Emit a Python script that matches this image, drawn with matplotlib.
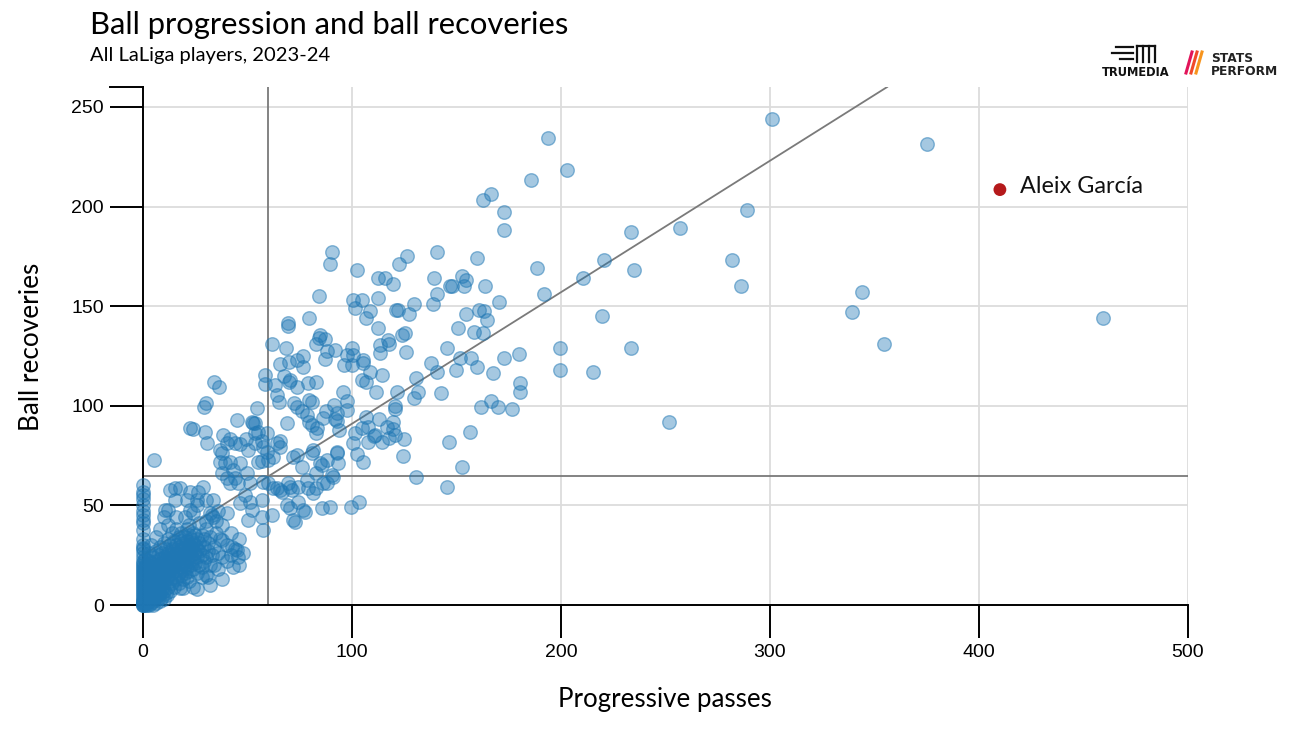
import matplotlib
matplotlib.use("Agg")
import matplotlib.pyplot as plt
from matplotlib.lines import Line2D
import numpy as np

# ---------------- data ----------------
title = "Ball progression and ball recoveries"
subtitle = "All LaLiga players, 2023-24"
x_label = "Progressive passes"
y_label = "Ball recoveries"
x_ticks = [0, 100, 200, 300, 400, 500]
y_ticks = [0, 50, 100, 150, 200, 250]
x_max = 500
y_max = 260
ref_x = 60           # vertical reference line
ref_y = 65           # horizontal reference line
trend_intercept = 25
trend_slope = 0.66

highlight_name = "Aleix García"
highlight_x = 410
highlight_y = 208.5

pts_sparse = [(300.8, 244.1), (375, 231.3), (193.8, 234.3), (202.7, 218.2), (185.5, 213.2),
              (166.5, 206.2), (162.5, 203.3), (172.6, 197.1), (172.6, 188.2), (288.9, 198.3),
              (233.7, 187.2), (256.7, 189.3), (220.8, 173.2), (234.7, 168.2), (281.8, 173.2),
              (285.9, 160.1), (188.7, 169.2), (210.7, 164.2), (191.9, 156.3), (344, 157.1),
              (339, 147.1), (219.7, 145.1), (459.2, 144.1), (354.6, 131), (199.4, 129),
              (233.7, 129), (199.4, 118), (215.5, 117), (251.6, 92)]

pts_upper_mid = [(90.4, 177.2), (89.5, 171.2), (126.5, 175.2), (122.7, 171.2), (140.5, 177.2),
                 (159.6, 174.2), (102.5, 168.2), (112.4, 164.2), (115.8, 164.2), (119.6, 161.1),
                 (139.4, 164.2), (152.6, 165.2), (154.5, 163.2), (146.9, 160.1), (147.8, 160.1),
                 (153.6, 160.1), (163.5, 160.1), (84.0, 155.1), (100.3, 153.1), (104.6, 153.1),
                 (101.6, 149.1), (112.6, 154.1), (108.5, 147.4), (106.6, 143.9), (112.6, 139.1),
                 (120.9, 148.1), (122.2, 148.1), (127.4, 146.1), (129.8, 151.1), (138.6, 151.1),
                 (140.5, 156.1), (160.6, 148.1), (163.3, 147.4), (164.6, 143.1), (154.5, 146.1),
                 (170.5, 152.1), (150.6, 139.1), (158.4, 137.1), (162.8, 136.4), (123.8, 135.7),
                 (125.5, 136.4), (117.4, 133), (84.7, 135.5), (87.1, 133.4)]

pts_mid = [(91.9, 128), (88.2, 127.6), (87.1, 123.3), (99.9, 128.9), (97.5, 125.5),
           (100.6, 125.5), (100.1, 120.5), (96.2, 120.5), (105.1, 123), (105.4, 121.3),
           (108.6, 117.1), (104.6, 113), (106.7, 112.1), (113.4, 130.5), (117.7, 131),
           (113.4, 126.7), (125.7, 127), (114.5, 115.3), (111.5, 107.1), (121.5, 107.1),
           (130.5, 114.1), (131.4, 107.1), (129.7, 104.1), (137.7, 121.3), (140.5, 117),
           (145.6, 129), (151.7, 124), (156.8, 124), (149.6, 118.1), (159.7, 119.3),
           (142.6, 106.3), (167.6, 116.3), (172.6, 124), (179.7, 126), (180.5, 111.3),
           (180.5, 107.1), (161.7, 99.2), (166.5, 102.3), (169.7, 99.2), (176.7, 98.2),
           (156.6, 87), (146.6, 82), (152.5, 69.1), (130.5, 64.1), (145.5, 59.1),
           (95.5, 107.1), (97.5, 102.6), (97.5, 97.9), (91.4, 100.4), (87.4, 97.2),
           (91.9, 93.2), (92.7, 92.5), (93.8, 87.9), (106.7, 94.2), (107.5, 89.2),
           (110.5, 84.8), (107.5, 82), (114.4, 82), (113.1, 93.2), (119.5, 92),
           (119.5, 88.4), (117.7, 83.7), (120.6, 85.3), (124.7, 83.2), (120.7, 99.9),
           (120.6, 98.2), (100.3, 81.2), (102.5, 75.8), (105.4, 71.9), (92.7, 77),
           (93.4, 71.1), (90.3, 65.3), (86, 61.4), (85.5, 70.3), (103.5, 51.9),
           (99.4, 49.3), (89.5, 49.3), (124.5, 74.8), (84.4, 133.9), (82.6, 131),
           (79.6, 144.1), (69.5, 141.4), (69.5, 140.1), (61.6, 131), (68.6, 129),
           (76.7, 125), (73.5, 123), (69.7, 122), (65.4, 121), (76.7, 119.3),
           (70.3, 113), (67.6, 115), (73.7, 109.6), (79.1, 111.3), (82.6, 112.1),
           (79.6, 102.9), (80.7, 101.9), (58.4, 115.5), (58.4, 110.9), (63.3, 110.4),
           (64.3, 105.4), (65.2, 102.1), (69.7, 112.1), (72.4, 101.3), (73.5, 99.6),
           (75.9, 97.6), (78.3, 95.4), (79.4, 91.7), (80.7, 90.4), (83.4, 88.7),
           (82.8, 86.2), (86.3, 93.7), (101.4, 86.2), (104.6, 88.7), (111, 85.3),
           (116.6, 89.5), (92.7, 96.2)]

pts_low_mid = [(34.1, 112.1), (36.5, 109.3), (30.1, 101.2), (29.3, 99.5), (22.5, 88.7),
               (29.7, 87), (38.4, 85.3), (44.8, 92.9), (52, 92), (53.6, 91.5),
               (53.6, 86.2), (54.4, 98.7), (59.2, 86.2), (68.8, 91.5), (24.1, 88.2),
               (30.5, 81.2), (41.6, 83.2), (36.8, 77.8), (40, 81.2), (44, 81.2),
               (46.4, 80.8), (50.4, 77.8), (49.3, 83.2), (55.2, 87), (53.6, 81.2),
               (56.8, 82.5), (65.6, 82.5), (52.8, 91.2), (59.2, 77), (56.8, 72.4),
               (55.2, 71.9), (62.4, 74.5), (37.7, 76.1), (39.2, 71.1), (41.6, 71.9),
               (36.8, 71.9), (46.4, 71.1), (43.2, 67.8), (49.6, 66.1), (44, 63.6),
               (41.6, 61.1), (45.6, 61.1), (51.2, 61.1), (37.7, 66.1), (40, 63.6),
               (57.6, 61.9), (60, 61.1), (62.4, 58.6), (64, 58.6), (66.4, 56.9),
               (71.2, 57.7), (68.8, 50.2), (74.4, 51.9), (76.7, 47.7), (70.3, 48.5),
               (72.7, 41.8), (71.9, 42.7), (85.5, 48.5), (57.2, 37.7), (61.6, 45.2),
               (56.8, 44.3), (56.8, 52.7), (52, 47.7), (50.4, 42.7), (51.2, 51.9),
               (46.4, 51.1), (48.8, 55.2), (65.6, 57.7), (70.3, 59.4), (74.4, 59.4),
               (79.1, 58.6), (81.5, 56.1), (84.7, 71.1), (87.9, 72.8), (92.7, 76.1),
               (91, 64.4), (81.5, 77.8), (83, 66.1), (87.9, 61.1), (65.6, 79.5),
               (71.9, 74.5), (64, 81.2), (57.6, 79.5), (60, 72.8), (73.5, 75.3),
               (80.7, 76.1), (75.9, 69.4), (69.5, 61.1), (78.3, 62.7), (83, 58.6),
               (77.5, 46.8), (5.4, 72.8)]

pts_low = [(0, 60.2), (0, 56.9), (0, 50.2), (0, 42.7), (0, 41), (0, 37.7), (0, 28.5), (0, 26),
           (12.9, 57.7), (15.3, 58.6), (17.7, 58.6), (22.5, 56.9), (26.5, 56.9), (28.9, 59.4),
           (30.1, 52.7), (33.6, 52.7), (25.7, 52.7), (20.9, 52.7), (15.3, 52.7), (10.5, 47.7),
           (12.1, 47.7), (22.5, 47.7), (32.1, 46.1), (33.6, 44.3), (37.7, 32.6), (40, 30.1),
           (42.4, 29.3), (44.8, 27.6), (45.6, 24.3), (43.2, 19.2), (31.1, 14.2), (19.3, 8.4),
           (17.7, 8.4), (11.3, 5)]

pts_dense = [(0, 0), (0, 0), (0, 0), (0, 1), (0, 1), (0, 2), (0, 2), (0, 3), (0, 4), (0, 5),
             (0, 6), (0, 7), (0, 8), (0, 9), (0, 10), (0, 11), (0, 12), (0, 13), (0, 14), (0, 15),
             (0, 16), (0, 17), (0, 18), (0, 19), (0, 20), (0, 21), (0, 22), (0, 24), (0, 28), (0, 30),
             (0, 33), (0, 45), (0, 47), (0, 53), (0, 55),
             (1, 0), (1, 1), (1, 2), (1, 3), (1, 5), (1, 6), (1, 8), (1, 10), (1, 12), (1, 14),
             (1, 17), (1, 19), (1, 23),
             (2, 0), (2, 1), (2, 3), (2, 4), (2, 7), (2, 9), (2, 11), (2, 13), (2, 16), (2, 20),
             (3, 0), (3, 2), (3, 5), (3, 6), (3, 8), (3, 10), (3, 12), (3, 15), (3, 18), (3, 22), (3, 26),
             (4, 1), (4, 3), (4, 4), (4, 7), (4, 9), (4, 11), (4, 14), (4, 17), (4, 21), (4, 30),
             (5, 0), (5, 2), (5, 5), (5, 8), (5, 10), (5, 13), (5, 16), (5, 19), (5, 24),
             (6, 1), (6, 4), (6, 6), (6, 9), (6, 12), (6, 15), (6, 18), (6, 22), (6, 27), (6, 34),
             (7, 3), (7, 5), (7, 8), (7, 11), (7, 14), (7, 17), (7, 20), (7, 25),
             (8, 2), (8, 6), (8, 10), (8, 13), (8, 16), (8, 19), (8, 23), (8, 29), (8, 38),
             (9, 4), (9, 8), (9, 12), (9, 15), (9, 18), (9, 21), (9, 26),
             (10, 3), (10, 7), (10, 11), (10, 14), (10, 17), (10, 20), (10, 24), (10, 31), (10, 44),
             (11, 6), (11, 13), (11, 19), (11, 23), (11, 28),
             (12, 9), (12, 15), (12, 18), (12, 22), (12, 26), (12, 33), (12, 40),
             (13, 7), (13, 12), (13, 17), (13, 21), (13, 25), (13, 30),
             (14, 11), (14, 16), (14, 20), (14, 24), (14, 28), (14, 36),
             (15, 9), (15, 14), (15, 19), (15, 23), (15, 27), (15, 32),
             (16, 13), (16, 18), (16, 22), (16, 26), (16, 30), (16, 38), (16, 44),
             (17, 11), (17, 16), (17, 21), (17, 25), (17, 29), (17, 34),
             (18, 15), (18, 19), (18, 24), (18, 28), (18, 32), (18, 36),
             (19, 13), (19, 18), (19, 22), (19, 27), (19, 31),
             (20, 16), (20, 20), (20, 25), (20, 29), (20, 34), (20, 44),
             (21, 14), (21, 19), (21, 23), (21, 27), (21, 32), (21, 38),
             (22, 12), (22, 17), (22, 22), (22, 26), (22, 30), (22, 35), (22, 40),
             (23, 20), (23, 25), (23, 29), (23, 33),
             (24, 9), (24, 18), (24, 23), (24, 28), (24, 31), (24, 36), (24, 46),
             (25, 21), (25, 26), (25, 30), (25, 35),
             (26, 8), (26, 16), (26, 24), (26, 28), (26, 33), (26, 50),
             (27, 20), (27, 27), (27, 31), (27, 41),
             (28, 14), (28, 19), (28, 25), (28, 35),
             (29, 22), (29, 29), (29, 33),
             (30, 15), (30, 24), (30, 38), (30, 42),
             (31, 27), (31, 31), (32, 10), (32, 20), (32, 34), (33, 25), (33, 45),
             (34, 20), (34, 29), (35, 36), (35, 42), (36, 18), (36, 26), (36, 47),
             (37, 33), (38, 13), (38, 24), (38, 40), (40, 22), (40, 46), (42, 25), (42, 36),
             (44, 28), (46, 20), (46, 33), (48, 26)]

# ---------------- figure ----------------
W, H = 1296, 729
fig = plt.figure(figsize=(W / 100, H / 100), dpi=100)
ax = fig.add_axes([143 / W, 1 - 605 / H, (1188 - 143) / W, (605 - 87) / H])
ax.set_xlim(0, x_max)
ax.set_ylim(0, y_max)

grid_c = "#dcdcdc"
ref_c = "#7a7a7a"

for xv in x_ticks[1:]:
    ax.plot([xv, xv], [0, y_max], color=grid_c, lw=1.3, zorder=0)
for yv in y_ticks[1:]:
    ax.plot([0, x_max], [yv, yv], color=grid_c, lw=1.3, zorder=0)

ax.plot([ref_x, ref_x], [0, y_max], color=ref_c, lw=1.3, zorder=1)
ax.plot([0, x_max], [ref_y, ref_y], color=ref_c, lw=1.3, zorder=1)
x_end = (y_max - trend_intercept) / trend_slope
ax.plot([0, x_end], [trend_intercept, trend_intercept + trend_slope * x_end],
        color=ref_c, lw=1.3, zorder=1)

allpts = pts_sparse + pts_upper_mid + pts_mid + pts_low_mid + pts_low + pts_dense
px = [p[0] for p in allpts]
py = [p[1] for p in allpts]
ax.scatter(px, py, s=95, facecolor=(0.122, 0.467, 0.706, 0.40),
           edgecolor=(0.122, 0.467, 0.706, 0.5), linewidths=1.0,
           clip_on=False, zorder=3)

ax.scatter([highlight_x], [highlight_y], s=85, color="#b5191b", edgecolor="none",
           zorder=4, clip_on=False)
ax.annotate(highlight_name, (highlight_x, highlight_y), xytext=(14.5, 2),
            textcoords="offset points", va="center", ha="left",
            fontsize=16.8, family="Lato", color="#111111")

# axes styling (d3-like)
for s in ["top", "right"]:
    ax.spines[s].set_visible(False)
for s in ["left", "bottom"]:
    ax.spines[s].set_color("black")
    ax.spines[s].set_linewidth(1.4)
    ax.spines[s].set_zorder(2)
ax.set_xticks(x_ticks)
ax.set_yticks(y_ticks)
ax.tick_params(axis="both", length=24, width=1.4, color="black",
               labelsize=14, pad=4, labelfontfamily="Liberation Sans")
# outer tick at top of y domain
ax.plot([-33 / 1045, 0], [1, 1], transform=ax.transAxes, color="black",
        lw=1.4, clip_on=False)

fig.text(665 / W, 1 - 700 / H, x_label, fontsize=18.6, family="Lato",
         ha="center", va="center")
fig.text(32 / W, 1 - 347 / H, y_label, fontsize=18.8, family="Lato",
         ha="center", va="center", rotation=90)

fig.text(90 / W, 1 - 34 / H, title, fontsize=22.3, family="Lato", va="baseline", ha="left")
fig.text(90 / W, 1 - 61 / H, subtitle, fontsize=14.5, family="Lato", va="baseline", ha="left")

# logos (approximate)
fig.text(1136 / W, 1 - 76 / H, "TRUMEDIA", fontsize=8.3, family="DejaVu Sans",
         weight="bold", ha="center", va="baseline", color="#111111")
for (x0, x1, y0) in [(1116, 1133, 47), (1112, 1133, 53), (1120, 1133, 59)]:
    fig.add_artist(Line2D([x0 / W, x1 / W], [1 - y0 / H, 1 - y0 / H], color="#111111", lw=1.6))
for xx in [1137, 1143, 1149, 1155]:
    fig.add_artist(Line2D([xx / W, xx / W], [1 - 46 / H, 1 - 62 / H], color="#111111", lw=1.6))
fig.add_artist(Line2D([1137 / W, 1155 / W], [1 - 46 / H, 1 - 46 / H], color="#111111", lw=1.6))
for i, c in enumerate(["#e2145a", "#f04a2a", "#f7941d"]):
    x0 = 1186 + i * 5
    fig.add_artist(Line2D([x0 / W, (x0 + 6) / W], [1 - 73 / H, 1 - 52 / H], color=c, lw=2.2))
fig.text(1211 / W, 1 - 62 / H, "STATS", fontsize=8.8, family="DejaVu Sans",
         weight="bold", ha="left", va="baseline", color="#222222")
fig.text(1211 / W, 1 - 75 / H, "PERFORM", fontsize=8.8, family="DejaVu Sans",
         weight="bold", ha="left", va="baseline", color="#222222")

fig.savefig("out.png", dpi=100, facecolor="white")
